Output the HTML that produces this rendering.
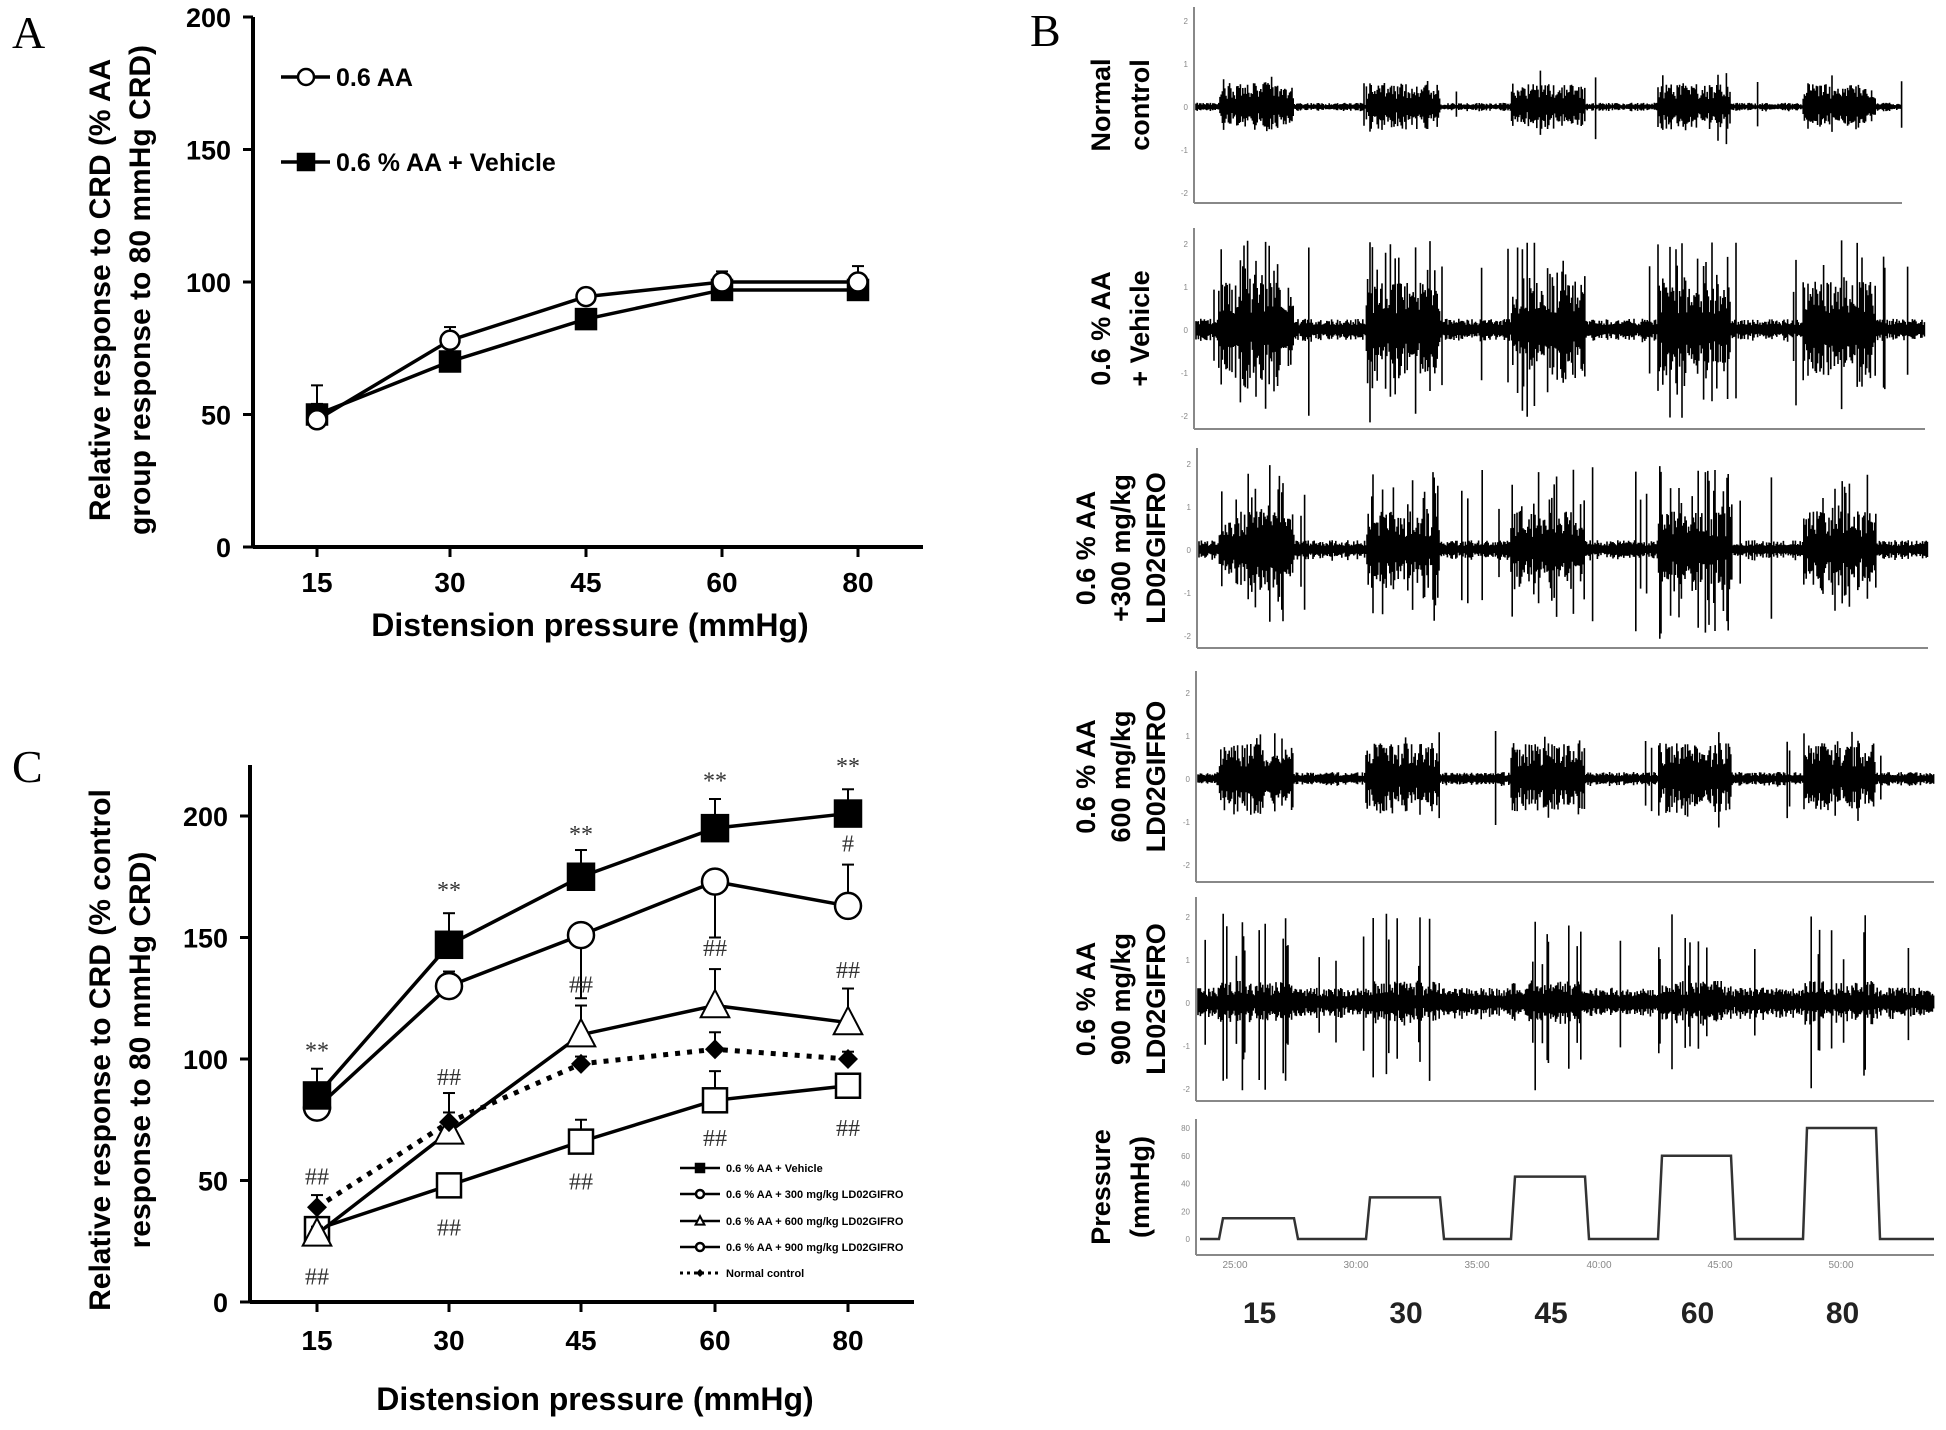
<!DOCTYPE html>
<html><head><meta charset="utf-8"><style>
html,body{margin:0;padding:0;background:#fff;}
svg{display:block;font-family:"Liberation Sans",sans-serif;}
</style></head><body>
<svg id="fig" width="1946" height="1430" viewBox="0 0 1946 1430" xmlns="http://www.w3.org/2000/svg">
<text x="12" y="48" font-family="Liberation Serif,serif" font-size="46">A</text>
<text x="1030" y="46" font-family="Liberation Serif,serif" font-size="46">B</text>
<text x="12" y="782" font-family="Liberation Serif,serif" font-size="46">C</text>
<g id="gA"></g>
<g id="gC"></g>
<g id="gB"></g>
</svg>
<script>
// ---------- Panel A data ----------
const catsA = ["15","30","45","60","80"];
const aaVals = [48,78,94.5,100,100];
const aaErr = [13,5,3,4,6];
const vehVals = [50,70,86,97,97];
const vehErr = [4,3,2,2,2];
const yTicksA = [0,50,100,150,200];
// ---------- Panel C data ----------
const catsC = ["15","30","45","60","80"];
const cVeh = [85,147,175,195,201];
const cVehErr = [11,13,11,12,10];
const c300 = [80,130,151,173,163];
const c300Err = [6,6,-26,-23,17];
const c600 = [28,70,110,122,115];
const c600Err = [3,8,12,15,14];
const c900 = [30,48,66,83,89];
const c900Err = [3,3,9,12,3];
const cNorm = [39,74,98,104,100];
const cNormErr = [5,12,3,7,3];
const yTicksC = [0,50,100,150,200];
const starLabels = ["**","**","**","**","**"];
const starVals = [104,170,193,215,221];
const hashTop = ["##","##","##","##","##"];
const hashTopVals = [52,93,131,146,137];
const hashBot = ["##","##","##","##","##"];
const hashBotVals = [11,31,50,68,72];
// ---------- Panel B data ----------
const pressureLevels = [15,30,45,60,80];
const timeLabels = ["25:00","30:00","35:00","40:00","45:00","50:00"];

const NS="http://www.w3.org/2000/svg";
function mk(parent,tag,attrs,txt){const e=document.createElementNS(NS,tag);for(const k in attrs)e.setAttribute(k,attrs[k]);if(txt!==undefined)e.textContent=txt;parent.appendChild(e);return e;}

function drawPanel(g,cfg){
  const xs=i=>cfg.xPos[i];
  const ys=v=>cfg.y0-(v/200)*(cfg.y0-cfg.y200);
  let e;
  e=mk(g,"line",{x1:cfg.ax,y1:cfg.axTop,x2:cfg.ax,y2:cfg.y0,stroke:"#000","stroke-width":4});
  
  
  e=mk(g,"line",{x1:cfg.ax,y1:cfg.y0,x2:cfg.axRight,y2:cfg.y0,stroke:"#000","stroke-width":4});
  
  
  cfg.yTicks.forEach(t=>{
    mk(g,"line",{x1:cfg.ax-10,y1:ys(t),x2:cfg.ax,y2:ys(t),stroke:"#000","stroke-width":3});
    e=mk(g,"text",{x:cfg.ax-22,y:ys(t)+10,"text-anchor":"end","font-size":27,"font-weight":"bold"},t);
    
    
  });
  cfg.cats.forEach((c,i)=>{
    mk(g,"line",{x1:xs(i),y1:cfg.y0,x2:xs(i),y2:cfg.y0+10,stroke:"#000","stroke-width":3});
    e=mk(g,"text",{x:xs(i),y:cfg.tickY,"text-anchor":"middle","font-size":28,"font-weight":"bold"},c);
    
    
  });
  e=mk(g,"text",{x:cfg.titleX,y:cfg.titleY,"text-anchor":"middle","font-size":32,"font-weight":"bold"},cfg.xTitle);
  
  
  cfg.yTitle.forEach((t,k)=>{
    e=mk(g,"text",{x:0,y:0,"text-anchor":"middle","font-size":30,"font-weight":"bold",transform:`translate(${cfg.yTitleX[k]},${cfg.yTitleY}) rotate(-90)`},t);
    
    
  });
  return {xs,ys};
}
function marker(g,type,x,y,s){
  let e;
  if(type==="sqF"||type==="sqO") e=mk(g,"rect",{x:x-s/2,y:y-s/2,width:s,height:s,fill:type==="sqF"?"#000":"#fff",stroke:"#000","stroke-width":2.5});
  else if(type==="circ") e=mk(g,"circle",{cx:x,cy:y,r:s/2,fill:"#fff",stroke:"#000","stroke-width":2.5});
  else if(type==="tri") e=mk(g,"polygon",{points:`${x},${y-s*0.6} ${x-s*0.55},${y+s*0.45} ${x+s*0.55},${y+s*0.45}`,fill:"#fff",stroke:"#000","stroke-width":2});
  else if(type==="dia") e=mk(g,"polygon",{points:`${x},${y-s/2} ${x+s/2},${y} ${x},${y+s/2} ${x-s/2},${y}`,fill:"#000"});
  return e;
}
function series(g,P,vals,errs,type,size,name,dashed){
  const pts=vals.map((v,i)=>P.xs(i)+","+P.ys(v)).join(" ");
  let e=mk(g,"polyline",{points:pts,fill:"none",stroke:"#000","stroke-width":dashed?5:3.5,"stroke-dasharray":dashed?"5 7":"none"});
  
  
  vals.forEach((v,i)=>{
    const x=P.xs(i),y=P.ys(v),y2=P.ys(v+errs[i]);
    mk(g,"line",{x1:x,y1:y,x2:x,y2:y2,stroke:"#000","stroke-width":2});
    mk(g,"line",{x1:x-6,y1:y2,x2:x+6,y2:y2,stroke:"#000","stroke-width":2});
  });
  vals.forEach((v,i)=>{
    const m=marker(g,type,P.xs(i),P.ys(v),size);
    
    
  });
}

// ---------- Panel A ----------
const gA=document.getElementById("gA");
const PA=drawPanel(gA,{ax:253,axTop:17,axRight:923,y0:547,y200:17,xPos:[317,450,586,722,858],cats:catsA,yTicks:yTicksA,tickY:592,titleX:590,titleY:636,xTitle:"Distension pressure (mmHg)",yTitle:["Relative response to CRD (% AA","group response to 80 mmHg CRD)"],yTitleX:[110,150],yTitleY:290});
series(gA,PA,vehVals,vehErr,"sqF",20,"vehicle-a");
series(gA,PA,aaVals,aaErr,"circ",19,"aa-a");
(function(){let e;
e=mk(gA,"line",{x1:281,y1:77,x2:330,y2:77,stroke:"#000","stroke-width":3.5});e=marker(gA,"circ",306,77,16);


e=mk(gA,"text",{x:336,y:86,"font-size":25,"font-weight":"bold"},"0.6 AA");


mk(gA,"line",{x1:281,y1:162,x2:330,y2:162,stroke:"#000","stroke-width":3.5});marker(gA,"sqF",306,162,16);
e=mk(gA,"text",{x:336,y:171,"font-size":25,"font-weight":"bold"},"0.6 % AA + Vehicle");


})();

// ---------- Panel C ----------
const gC=document.getElementById("gC");
const PC=drawPanel(gC,{ax:250,axTop:765,axRight:914,y0:1302,y200:816,xPos:[317,449,581,715,848],cats:catsC,yTicks:yTicksC,tickY:1350,titleX:595,titleY:1410,xTitle:"Distension  pressure  (mmHg)",yTitle:["Relative response to CRD (% control","response to 80 mmHg CRD)"],yTitleX:[110,150],yTitleY:1050});
series(gC,PC,c900,c900Err,"sqO",24,"900-mgkg");
series(gC,PC,c600,c600Err,"tri",26,"600-mgkg");
series(gC,PC,cNorm,cNormErr,"dia",20,"normal-control",true);
series(gC,PC,c300,c300Err,"circ",26,"300-mgkg");
series(gC,PC,cVeh,cVehErr,"sqF",26,"vehicle-c");
function annot(labels,vals,name){labels.forEach((t,i)=>{const e=mk(gC,"text",{x:PC.xs(i),y:PC.ys(vals[i])+9,"text-anchor":"middle","font-size":24,fill:"#333","font-family":"Liberation Serif,serif"},t);

});}
annot(starLabels,starVals,"significance-stars");
annot(hashTop,hashTopVals,"significance-hash-top");
annot(hashBot,hashBotVals,"significance-hash-bottom");
(function(){let e=mk(gC,"text",{x:PC.xs(4),y:PC.ys(189)+9,"text-anchor":"middle","font-size":24,fill:"#333","font-family":"Liberation Serif,serif"},"#");


const leg=[["sqF","0.6 % AA + Vehicle",false],["circ","0.6 % AA + 300 mg/kg LD02GIFRO",false],["tri","0.6 % AA + 600 mg/kg LD02GIFRO",false],["circ","0.6 % AA + 900 mg/kg LD02GIFRO",false],["dia","Normal control",true]];
const ly=[1168,1194,1221,1247,1273];
leg.forEach((l,k)=>{
  mk(gC,"line",{x1:680,y1:ly[k],x2:720,y2:ly[k],stroke:"#000","stroke-width":l[2]?3:2.5,"stroke-dasharray":l[2]?"3 4":"none"});
  marker(gC,l[0],700,ly[k],8);
  const t=mk(gC,"text",{x:726,y:ly[k]+4,"font-size":11,"font-weight":"bold"},l[1]);
  
  
});})();

// ---------- Panel B ----------
let seed=12345;function rnd(){seed=(seed*1103515245+12345)%2147483648;return seed/2147483648;}
const gB=document.getElementById("gB");
const bursts=[[1219,1294],[1366,1440],[1511,1585],[1658,1731],[1803,1876]];
const traces=[
 {top:7,bot:203,base:107,x0:1194,x1:1902,bg:3,amp:16,spk:0.05,spkA:38,label:["Normal","control"]},
 {top:228,bot:429,base:330,x0:1194,x1:1925,bg:8,amp:32,spk:0.3,spkA:90,label:["0.6 %  AA","+ Vehicle"]},
 {top:448,bot:648,base:550,x0:1197,x1:1928,bg:7,amp:26,spk:0.25,spkA:85,label:["0.6 % AA","+300 mg/kg","LD02GIFRO"]},
 {top:671,bot:882,base:779,x0:1196,x1:1934,bg:5,amp:24,spk:0.1,spkA:50,label:["0.6 % AA","600 mg/kg","LD02GIFRO"]},
 {top:897,bot:1101,base:1003,x0:1196,x1:1934,bg:11,amp:15,spk:0.12,spkA:90,label:["0.6 % AA","900 mg/kg","LD02GIFRO"]}
];
traces.forEach((t,k)=>{
  let e=mk(gB,"line",{x1:t.x0,y1:t.top,x2:t.x0,y2:t.bot,stroke:"#888","stroke-width":2});
  
  
  mk(gB,"line",{x1:t.x0,y1:t.bot,x2:t.x1,y2:t.bot,stroke:"#888","stroke-width":2});
  ["2","1","0","-1","-2"].forEach((s,j)=>mk(gB,"text",{x:t.x0-6,y:t.base+(j-2)*43+3,"text-anchor":"end","font-size":8,fill:"#888"},s));
  let d="";
  for(let x=t.x0+2;x<t.x1;x+=1.2){
    const inB=bursts.some(b=>x>=b[0]&&x<=b[1]);
    let a=t.bg*(0.6+0.8*rnd());
    if(inB)a=t.amp*(0.5+rnd());
    if(rnd()<(inB?t.spk:t.spk*0.15))a=t.spkA*(0.4+0.6*rnd());
    d+=`M${x.toFixed(1)} ${(t.base-a).toFixed(1)}V${(t.base+a*(0.6+0.5*rnd())).toFixed(1)}`;
  }
  e=mk(gB,"path",{d:d,stroke:"#000","stroke-width":1.6,fill:"none"});
  
  
  const n=t.label.length,lx=n===2?[1100,1139]:[1085,1120,1155];
  t.label.forEach((s,j)=>{
    const te=mk(gB,"text",{x:0,y:0,"text-anchor":"middle","font-size":27,"font-weight":"bold",transform:`translate(${lx[j]+10},${(t.top+t.bot)/2}) rotate(-90)`},s);
    
    
  });
});
// pressure trace
(function(){
  const x0=1196,x1=1934,top=1119,bot=1255,p0=1239,p80=1128;
  const py=v=>p0-(v/80)*(p0-p80);
  let e=mk(gB,"line",{x1:x0,y1:top,x2:x0,y2:bot,stroke:"#888","stroke-width":2});
  
  
  mk(gB,"line",{x1:x0,y1:bot,x2:x1,y2:bot,stroke:"#888","stroke-width":2});
  [0,20,40,60,80].forEach(v=>mk(gB,"text",{x:x0-6,y:py(v)+3,"text-anchor":"end","font-size":8,fill:"#888"},v));
  let d=`M${x0+4} ${py(0)}`;
  pressureLevels.forEach((v,i)=>{const b=bursts[i];d+=`L${b[0]} ${py(0)}L${b[0]+4} ${py(v)}L${b[1]} ${py(v)}L${b[1]+4} ${py(0)}`;});
  d+=`L${x1} ${py(0)}`;
  e=mk(gB,"path",{d:d,stroke:"#333","stroke-width":2.5,fill:"none"});
  
  
  const tx=[1235,1356,1477,1599,1720,1841];
  timeLabels.forEach((s,i)=>mk(gB,"text",{x:tx[i],y:1268,"text-anchor":"middle","font-size":10,fill:"#888"},s));
  [["Pressure",1100],["(mmHg)",1139]].forEach(l=>{const te=mk(gB,"text",{x:0,y:0,"text-anchor":"middle","font-size":27,"font-weight":"bold",transform:`translate(${l[1]+10},1187) rotate(-90)`},l[0]);
  
  });
  pressureLevels.forEach((v,i)=>{const b=bursts[i];const te=mk(gB,"text",{x:(b[0]+b[1])/2+3,y:1323,"text-anchor":"middle","font-size":30,"font-weight":"bold",fill:"#222"},v);
  
  });
})();
</script>
</body></html>
